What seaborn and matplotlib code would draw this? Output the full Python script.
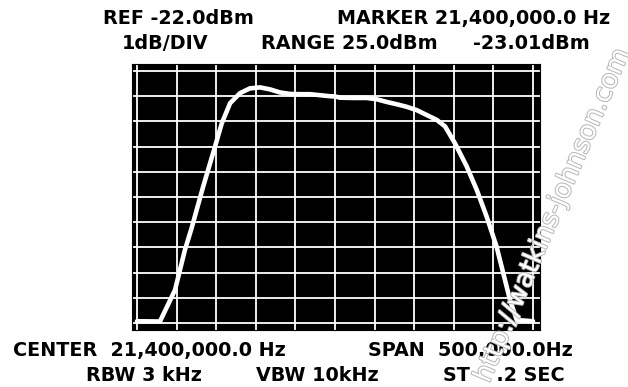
import numpy as np
import pandas as pd
import matplotlib
matplotlib.use("Agg")
import matplotlib.pyplot as plt
import matplotlib.patheffects as pe
import seaborn as sns

# ---- data ----
freq_mhz = [21.1500, 21.1790, 21.1980, 21.2105, 21.2190, 21.2335, 21.2485,
            21.2570, 21.2675, 21.2800, 21.2925, 21.3055, 21.3180, 21.3305,
            21.3430, 21.3560, 21.3685, 21.3810, 21.3935, 21.4000, 21.4065,
            21.4230, 21.4400, 21.4525, 21.4655, 21.4780, 21.4905, 21.5030,
            21.5160, 21.5285, 21.5390, 21.5515, 21.5665, 21.5790, 21.5915,
            21.6040, 21.6125, 21.6210, 21.6295, 21.6500]
level_dbm = [-31.93, -31.94, -30.69, -29.10, -28.23, -26.59, -25.00,
             -24.08, -23.28, -22.88, -22.69, -22.65, -22.73, -22.85,
             -22.91, -22.92, -22.92, -22.96, -23.00, -23.01, -23.06,
             -23.07, -23.07, -23.12, -23.23, -23.32, -23.42, -23.55,
             -23.75, -23.94, -24.20, -24.87, -25.80, -26.72, -27.78,
             -28.97, -30.03, -31.09, -31.88, -31.93]

freq_ticks = [21.15, 21.20, 21.25, 21.30, 21.35, 21.40, 21.45, 21.50, 21.55, 21.60, 21.65]
level_ticks = [-32, -31, -30, -29, -28, -27, -26, -25, -24, -23, -22]

top_labels = ["REF -22.0dBm", "MARKER 21,400,000.0 Hz",
              "1dB/DIV", "RANGE 25.0dBm", "-23.01dBm"]
bottom_labels = ["CENTER  21,400,000.0 Hz", "SPAN  500,000.0Hz",
                 "RBW 3 kHz", "VBW 10kHz", "ST    .2 SEC"]
watermark = "http://watkins-johnson.com"

df = pd.DataFrame({"freq": freq_mhz, "level": level_dbm})

sns.set_style("white", {"axes.facecolor": "black"})
plt.rcParams["font.family"] = ["DejaVu Sans"]

W, H = 628, 387
fig = plt.figure(figsize=(W / 100, H / 100), dpi=100)
fig.patch.set_facecolor("white")

# axes covers the black frame; grid spans the inner divisions
ax = fig.add_axes([132 / W, 1 - 330 / H, 408 / W, 266 / H])
div_x = 0.05 / 39.6  # MHz per pixel
div_y = 1 / 25.2     # dB per pixel
ax.set_xlim(freq_ticks[0] - 5 * div_x, freq_ticks[-1] + 7 * div_x)
ax.set_ylim(level_ticks[0] - 7 * div_y, level_ticks[-1] + 7 * div_y)
ax.set_xticks(freq_ticks)
ax.set_yticks(level_ticks)
ax.grid(True, color="white", linewidth=1.3)
ax.set_axisbelow(True)
ax.tick_params(length=0, labelbottom=False, labelleft=False)
for s in ax.spines.values():
    s.set_color("black")

sns.lineplot(data=df, x="freq", y="level", color="white", linewidth=3.3,
             ax=ax, legend=False)
ax.set_xlabel("")
ax.set_ylabel("")

def put(txt, x, y, ha="left"):
    fig.text(x / W, 1 - y / H, txt, ha=ha, va="baseline", fontsize=13.8,
             fontweight="bold", color="black")

put(top_labels[0], 103, 24)
put(top_labels[1], 610, 24, ha="right")
put(top_labels[2], 122, 49)
put(top_labels[3], 261, 49)
put(top_labels[4], 590, 49, ha="right")
put(bottom_labels[0], 13, 356)
put(bottom_labels[1], 368, 356)
put(bottom_labels[2], 86, 381)
put(bottom_labels[3], 256, 381)
put(bottom_labels[4], 443, 381)

fig.text(553 / W, 1 - 215 / H, watermark, rotation=67, rotation_mode="anchor",
         ha="center", va="center", fontsize=19, color="white",
         path_effects=[pe.withStroke(linewidth=1.4, foreground="#b5b5b5")],
         zorder=10)

fig.savefig("out.png", dpi=100)
